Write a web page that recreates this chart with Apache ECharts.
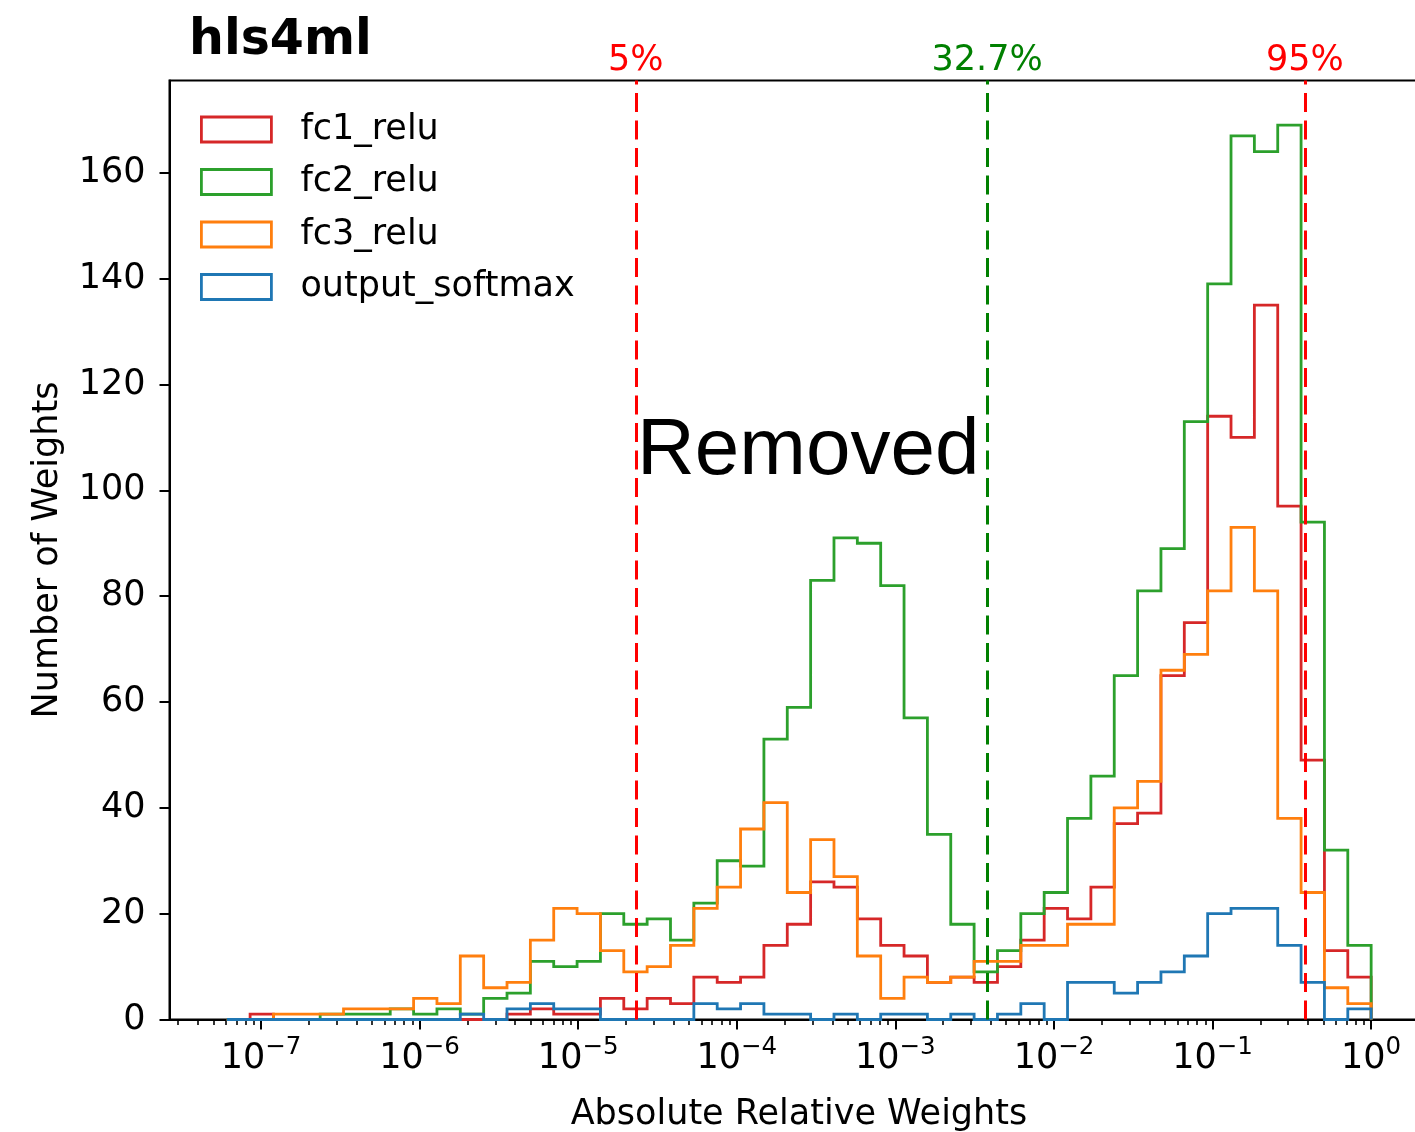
<!DOCTYPE html>
<html>
<head>
<meta charset="utf-8">
<title>hls4ml weight histogram</title>
<script src="https://cdn.jsdelivr.net/npm/echarts@6.0.0/dist/echarts.min.js"></script>
<style>
  html, body { margin: 0; padding: 0; background: #fff; }
  #chart { width: 1415px; height: 1132px; }
</style>
</head>
<body>
<div id="chart"></div>
<script>
// 49 log-spaced bins between 10^-7.216 and 10^0
const binLogMin = -7.216
const binLogMax = 0
const binCount = 49

// counts per bin
const fc1Relu = [0, 1, 0, 0, 0, 0, 0, 0, 0, 0, 0, 0, 1, 2, 1, 1, 4, 2, 4, 3, 8, 7, 8, 14, 18, 26, 25, 19, 14, 12, 7, 8, 7, 10, 15, 21, 19, 25, 37, 39, 65, 75, 114, 110, 135, 97, 49, 13, 8]
const fc2Relu = [0, 0, 0, 0, 1, 1, 1, 2, 1, 2, 1, 4, 5, 11, 10, 11, 20, 18, 19, 15, 22, 30, 29, 53, 59, 83, 91, 90, 82, 57, 35, 18, 9, 13, 20, 24, 38, 46, 65, 81, 89, 113, 139, 167, 164, 169, 94, 32, 14]
const fc3Relu = [0, 0, 1, 1, 1, 2, 2, 2, 4, 3, 12, 6, 7, 15, 21, 20, 13, 9, 10, 14, 21, 25, 36, 41, 24, 34, 27, 12, 4, 8, 7, 8, 11, 11, 14, 14, 18, 18, 40, 45, 66, 69, 81, 93, 81, 38, 24, 6, 3]
const outputSoftmax = [0, 0, 0, 0, 0, 0, 0, 0, 0, 0, 1, 0, 2, 3, 2, 2, 0, 0, 0, 0, 3, 2, 3, 1, 1, 0, 1, 0, 1, 1, 0, 1, 0, 1, 3, 0, 7, 7, 5, 7, 9, 12, 20, 21, 21, 14, 7, 0, 2]

const seriesNames = ['fc1_relu', 'fc2_relu', 'fc3_relu', 'output_softmax']
const seriesColors = ['#d62728', '#2ca02c', '#ff7f0e', '#1f77b4']

// pruning thresholds (vertical dashed lines)
const cutValues = [2.31e-5, 3.79e-3, 0.3825]
const cutLabels = ['5%', '32.7%', '95%']
const cutColors = ['#ff0000', '#008000', '#ff0000']

// axes
const xLogMin = -7.577
const xLogMax = 0.361
const xMajorTicks = [1e-7, 1e-6, 1e-5, 1e-4, 1e-3, 1e-2, 1e-1, 1]
const yTicks = [0, 20, 40, 60, 80, 100, 120, 140, 160]
const yMax = 177.45

const font = 'DejaVu Sans'
const fontSize = 35

const edges = []
for (let i = 0; i <= binCount; i++) {
    edges.push(Math.pow(10, binLogMin + (binLogMax - binLogMin) * i / binCount))
}

const xMinorTicks = []
for (let n = -8; n <= 0; n++) {
    for (let d = 2; d <= 9; d++) xMinorTicks.push(d * Math.pow(10, n))
}

// outline of a step histogram
const stepData = (counts) => {
    const pts = [[edges[0], 0]]
    counts.forEach((c, i) => pts.push([edges[i], c]))
    pts.push([edges[binCount], counts[binCount - 1]])
    pts.push([edges[binCount], 0])
    return pts
}

const allCounts = [fc1Relu, fc2Relu, fc3Relu, outputSoftmax]

const series = allCounts.map((counts, i) => ({
    name: seriesNames[i],
    type: 'line',
    step: 'end',
    symbol: 'none',
    silent: true,
    color: seriesColors[i],
    lineStyle: { width: 2.8, color: seriesColors[i], join: 'miter', cap: 'butt' },
    data: stepData(counts)
}))

// dashed cut lines go on the last series so they sit on top
series[series.length - 1].markLine = {
    silent: true,
    symbol: ['none', 'none'],
    precision: 10,
    animation: false,
    data: cutValues.map((v, i) => ({
        xAxis: v,
        lineStyle: { color: cutColors[i], width: 3, type: [19, 8.5] },
        label: {
            show: true,
            position: 'end',
            distance: 2,
            formatter: cutLabels[i],
            color: cutColors[i],
            fontFamily: font,
            fontSize: fontSize
        }
    }))
}

const supLabel = (value) => {
    const e = Math.round(Math.log10(value))
    const txt = e < 0 ? '\u2212' + Math.abs(e) : String(e)
    return '{b|10}{s|' + txt + '}'
}

const chart = echarts.init(document.getElementById('chart'))
chart.setOption({
    animation: false,
    backgroundColor: '#fff',
    title: {
        text: 'hls4ml',
        left: 189,
        top: 17,
        padding: 0,
        textStyle: { fontFamily: font, fontWeight: 'bold', fontSize: 49, color: '#000' }
    },
    legend: {
        orient: 'vertical',
        left: 200,
        top: 112,
        padding: 0,
        itemWidth: 70,
        itemHeight: 25,
        itemGap: 17.5,
        selectedMode: false,
        textStyle: { fontFamily: font, fontSize: fontSize, color: '#000', padding: [0, 0, 0, 24] },
        data: seriesNames.map((n, i) => ({
            name: n,
            icon: 'rect',
            itemStyle: { color: 'rgba(0,0,0,0)', borderColor: seriesColors[i], borderWidth: 2.8 }
        }))
    },
    grid: {
        left: 169.5,
        top: 80.5,
        width: 1258.9,
        height: 939,
        outerBoundsMode: 'none',
        containLabel: false,
        show: true,
        borderColor: '#000',
        borderWidth: 2,
        backgroundColor: 'rgba(0,0,0,0)'
    },
    xAxis: [
        {
            type: 'log',
            logBase: 10,
            min: Math.pow(10, xLogMin),
            max: Math.pow(10, xLogMax),
            axisLine: { show: true, onZero: false, lineStyle: { color: '#000', width: 2 } },
            axisTick: { show: true, length: 10, customValues: xMajorTicks, lineStyle: { color: '#000', width: 2 } },
            axisLabel: {
                customValues: xMajorTicks,
                margin: 16,
                formatter: supLabel,
                rich: {
                    b: { fontFamily: font, fontSize: fontSize, color: '#000', lineHeight: 41, verticalAlign: 'bottom' },
                    s: { fontFamily: font, fontSize: 24.5, color: '#000', verticalAlign: 'top' }
                }
            },
            splitLine: { show: false },
            minorTick: { show: false },
            name: 'Absolute Relative Weights',
            nameLocation: 'middle',
            nameGap: 78,
            nameTextStyle: { fontFamily: font, fontSize: fontSize, color: '#000' }
        },
        {
            // minor ticks only
            type: 'log',
            logBase: 10,
            min: Math.pow(10, xLogMin),
            max: Math.pow(10, xLogMax),
            position: 'bottom',
            axisLine: { show: false, onZero: false },
            axisTick: { show: true, length: 5.5, customValues: xMinorTicks, lineStyle: { color: '#000', width: 1.6 } },
            axisLabel: { show: false },
            splitLine: { show: false }
        }
    ],
    yAxis: {
        type: 'value',
        min: 0,
        max: yMax,
        interval: 20,
        axisLine: { show: true, onZero: false, lineStyle: { color: '#000', width: 2 } },
        axisTick: { show: true, length: 10, customValues: yTicks, lineStyle: { color: '#000', width: 2 } },
        axisLabel: { customValues: yTicks, margin: 24, fontFamily: font, fontSize: fontSize, color: '#000' },
        splitLine: { show: false },
        name: 'Number of Weights',
        nameLocation: 'middle',
        nameGap: 104,
        nameTextStyle: { fontFamily: font, fontSize: fontSize, color: '#000' }
    },
    graphic: [
        {
            type: 'text',
            x: 637,
            y: 452,
            silent: true,
            style: {
                text: 'Removed',
                fontFamily: 'Liberation Sans',
                fontSize: 80,
                fill: '#000',
                align: 'left',
                verticalAlign: 'middle'
            }
        }
    ],
    series: series
})
</script>
</body>
</html>
